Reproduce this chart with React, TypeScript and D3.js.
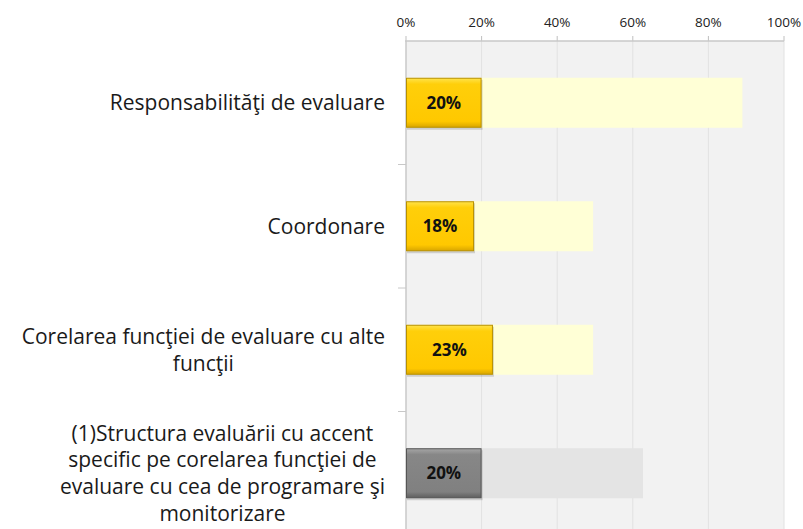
import React from "react";
import * as d3 from "d3";

const categories: string[][] = [
  ["Responsabilităţi de evaluare"],
  ["Coordonare"],
  ["Corelarea funcţiei de evaluare cu alte", "funcţii"],
  ["(1)Structura evaluării cu accent", "specific pe corelarea funcţiei de", "evaluare cu cea de programare şi", "monitorizare"],
];
const values: number[] = [0.2, 0.18, 0.23, 0.2];
const backValues: number[] = [0.89, 0.495, 0.495, 0.627];
const highlighted: boolean[] = [false, false, false, true];
const ticks: number[] = [0, 0.2, 0.4, 0.6, 0.8, 1];

const W = 803;
const H = 529;
const FONT = "'Open Sans', sans-serif";
const LABEL_SIZE = 21;

let canvas: HTMLCanvasElement | null = null;
function measure(t: string, font: string): number {
  if (!canvas) canvas = document.createElement("canvas");
  const ctx = canvas.getContext("2d")!;
  ctx.font = font;
  return ctx.measureText(t).width;
}

export default function App() {
  const x = d3.scaleLinear().domain([0, 1]).range([406, 784]);
  const y = d3.scaleBand<number>().domain(d3.range(categories.length)).range([41, 535]).paddingInner(0.6).paddingOuter(0.3);
  const step = y.step();
  const bandTop = (i: number) => 41 + i * step;
  const bh = 50;
  const labelRight = 385;
  const lineH = 26.7;

  return (
    <svg width={W} height={H} style={{ position: "absolute", left: 0, top: 0 }}>
      <defs>
        <linearGradient id="gy" x1="0" y1="0" x2="0" y2="1">
          <stop offset="0" stopColor="#FFE34A" />
          <stop offset="0.12" stopColor="#FFCF0A" />
          <stop offset="0.88" stopColor="#FFC800" />
          <stop offset="1" stopColor="#D9A600" />
        </linearGradient>
        <linearGradient id="gg" x1="0" y1="0" x2="0" y2="1">
          <stop offset="0" stopColor="#A6A6A6" />
          <stop offset="0.12" stopColor="#878787" />
          <stop offset="0.88" stopColor="#808080" />
          <stop offset="1" stopColor="#5E5E5E" />
        </linearGradient>
      </defs>
      <rect x={0} y={0} width={W} height={H} fill="#ffffff" />
      <rect x={x(0)} y={41} width={x(1) - x(0)} height={H - 41} fill="#F2F2F2" />
      {ticks.map((t) => (
        <g key={t}>
          {t > 0 && <line x1={x(t)} x2={x(t)} y1={41} y2={H} stroke="#E2E2E2" strokeWidth={1} />}
          <line x1={x(t)} x2={x(t)} y1={36} y2={41} stroke="#BFBFBF" strokeWidth={1} />
          <text x={x(t)} y={27} textAnchor="middle" fontFamily={FONT} fontSize={13.5} fill="#222">
            {d3.format(".0%")(t)}
          </text>
        </g>
      ))}
      <line x1={x(0) - 1} x2={x(1)} y1={41} y2={41} stroke="#C8C8C8" strokeWidth={1.5} />
      <line x1={x(0)} x2={x(0)} y1={41} y2={H} stroke="#C8C8C8" strokeWidth={1.5} />
      {categories.map((_, i) => (i > 0 ? <line key={"t" + i} x1={398} x2={x(0)} y1={bandTop(i)} y2={bandTop(i)} stroke="#C8C8C8" strokeWidth={1} /> : null))}
      {categories.map((lines, i) => {
        const cy = bandTop(i) + step / 2;
        const top = cy - bh / 2;
        const hi = highlighted[i];
        const font = `${LABEL_SIZE}px ${FONT}`;
        const maxW = Math.max(...lines.map((l) => measure(l, font)));
        const cx = labelRight - maxW / 2;
        const y0 = cy - ((lines.length - 1) * lineH) / 2;
        return (
          <g key={i}>
            <rect x={x(0)} y={top} width={x(backValues[i]) - x(0)} height={bh} fill={hi ? "#E4E4E4" : "#FFFFD6"} />
            <rect x={x(0) + 1} y={top + 2} width={x(values[i]) - x(0)} height={bh} fill="#000" opacity={0.15} />
            <rect x={x(0) + 0.5} y={top + 0.5} width={x(values[i]) - x(0) - 1} height={bh - 1} fill={hi ? "url(#gg)" : "url(#gy)"} stroke={hi ? "#555" : "#B89000"} strokeWidth={1} />
            <text x={(x(0) + x(values[i])) / 2} y={cy} dy="0.36em" textAnchor="middle" fontFamily={FONT} fontWeight="bold" fontSize={17} fill="#111">
              {d3.format(".0%")(values[i])}
            </text>
            {lines.map((l, k) => (
              <text key={k} x={cx} y={y0 + k * lineH} dy="0.36em" textAnchor="middle" fontFamily={FONT} fontSize={LABEL_SIZE} fill="#1a1a1a">
                {l}
              </text>
            ))}
          </g>
        );
      })}
    </svg>
  );
}
